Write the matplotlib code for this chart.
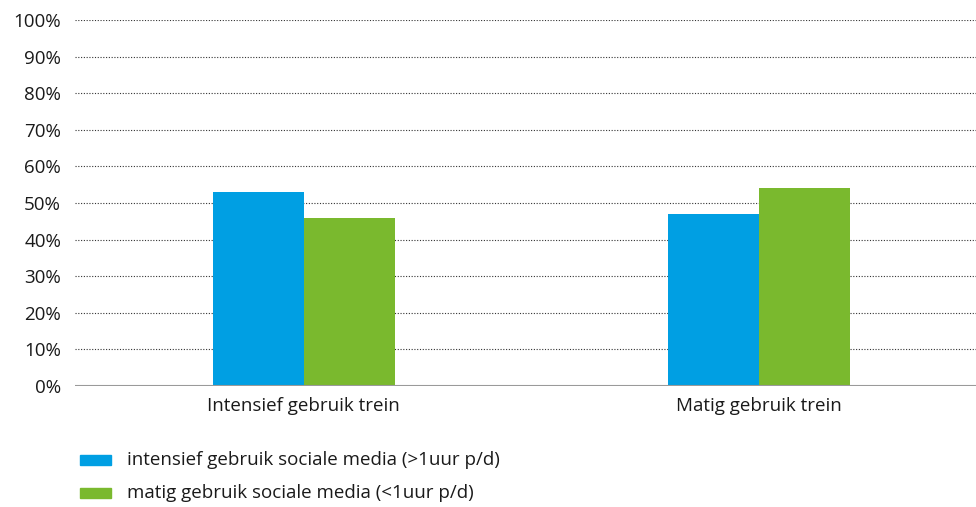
import matplotlib
matplotlib.use("Agg")
import matplotlib.pyplot as plt
from matplotlib.patches import Rectangle

plt.rcParams['font.family'] = ['Open Sans', 'DejaVu Sans']

categories = ["Intensief gebruik trein", "Matig gebruik trein"]
series_names = ["intensief gebruik sociale media (>1uur p/d)",
                "matig gebruik sociale media (<1uur p/d)"]
intensief_media = [53, 47]
matig_media = [46, 54]
yticks = [0, 10, 20, 30, 40, 50, 60, 70, 80, 90, 100]

blue = "#009FE3"
green = "#7AB92E"
text_col = "#1a1a1a"
fs = 13.5

fig = plt.figure(figsize=(9.76, 5.07), dpi=100)
ax = fig.add_axes([0.0768, 0.2387, 0.9232, 0.7219])

w = 0.2
x = list(range(len(categories)))
ax.bar([i - w / 2 for i in x], intensief_media, width=w, color=blue, zorder=3)
ax.bar([i + w / 2 for i in x], matig_media, width=w, color=green, zorder=3)

ax.set_xlim(-0.503, 1.477)
ax.set_ylim(0, 100)
ax.set_yticks(yticks)
ax.set_yticklabels([f"{v}%" for v in yticks], fontsize=fs, color=text_col)
ax.set_xticks(x)
ax.set_xticklabels(categories, fontsize=fs, color=text_col)
ax.tick_params(axis='both', length=0)
ax.tick_params(axis='y', pad=10)
ax.tick_params(axis='x', pad=8)

for v in yticks[1:]:
    ax.axhline(v, color="#333333", lw=0.8, ls=(0, (1, 1.5)), zorder=1)
ax.axhline(0, color="#9a9a9a", lw=1.5, zorder=4)

for s in ax.spines.values():
    s.set_visible(False)

# legend drawn manually below the axes
for k, (name, col) in enumerate(zip(series_names, [blue, green])):
    yc = 1 - (460 + 33 * k) / 507
    fig.patches.append(Rectangle((80 / 976, yc - 5 / 507), 31 / 976, 10 / 507,
                                 transform=fig.transFigure, color=col))
    fig.text(127 / 976, yc, name, fontsize=fs, color=text_col,
             va="center", ha="left")

fig.savefig("out.png", dpi=100)
